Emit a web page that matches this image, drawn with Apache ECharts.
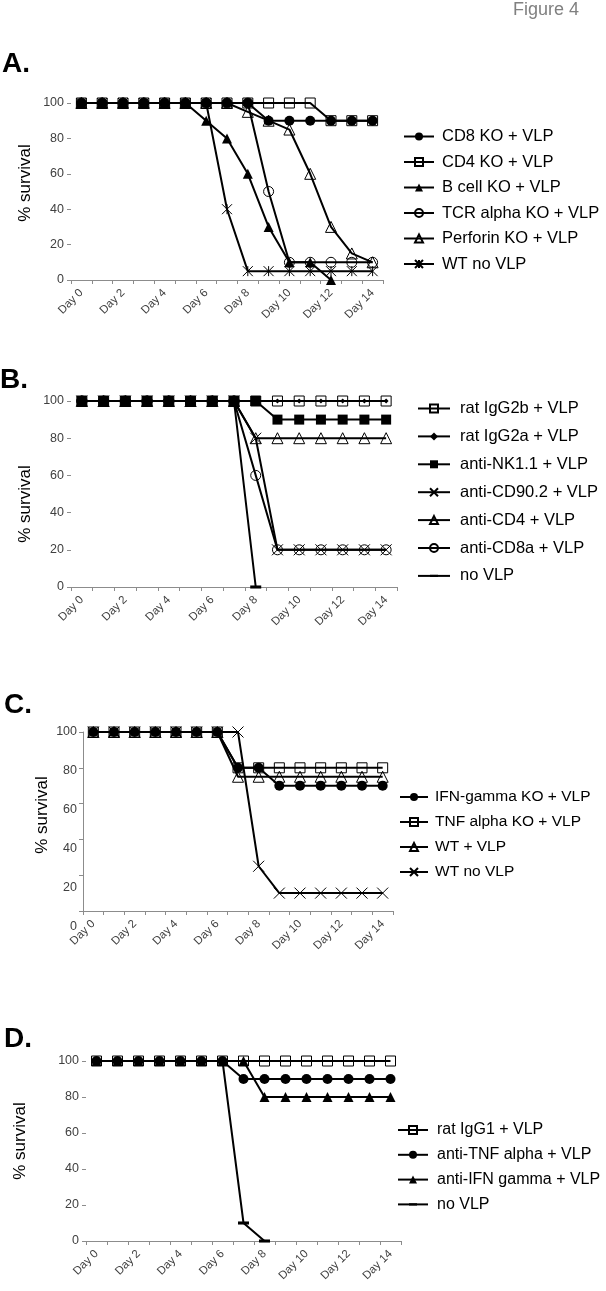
<!DOCTYPE html>
<html><head><meta charset="utf-8">
<script src="https://cdn.jsdelivr.net/npm/echarts@6/dist/echarts.min.js"></script>
<style>html,body{margin:0;padding:0;background:#fff}#c{width:606px;height:1291px}</style>
</head><body><div id="c"></div>
<script>
// ---- data ----
const days = ['Day 0','Day 1','Day 2','Day 3','Day 4','Day 5','Day 6','Day 7','Day 8','Day 9','Day 10','Day 11','Day 12','Day 13','Day 14'];
const yTicks = [0, 20, 40, 60, 80, 100];

// Panel A
const aCD8   = [100,100,100,100,100,100,100,100,100,90,90,90,90,90,90];
const aCD4   = [100,100,100,100,100,100,100,100,100,100,100,100,90,90,90];
const aBcell = [100,100,100,100,100,100,90,80,60,30,10,10,0,null,null];
const aTCR   = [100,100,100,100,100,100,100,100,100,50,10,10,10,10,10];
const aPerf  = [100,100,100,100,100,100,100,100,95,90,85,60,30,15,10];
const aWT    = [100,100,100,100,100,100,100,40,5,5,5,5,5,5,5];

// Panel B
const bIgG2b = [100,100,100,100,100,100,100,100,100,100,100,100,100,100,100];
const bIgG2a = [100,100,100,100,100,100,100,100,100,100,100,100,100,100,100];
const bNK    = [100,100,100,100,100,100,100,100,100,90,90,90,90,90,90];
const bCD90  = [100,100,100,100,100,100,100,100,80,20,20,20,20,20,20];
const bCD4   = [100,100,100,100,100,100,100,100,80,80,80,80,80,80,80];
const bCD8a  = [100,100,100,100,100,100,100,100,60,20,20,20,20,20,20];
const bNoVLP = [100,100,100,100,100,100,100,100,0,null,null,null,null,null,null];

// Panel C
const cIFN   = [100,100,100,100,100,100,100,80,80,70,70,70,70,70,70];
const cTNF   = [100,100,100,100,100,100,100,80,80,80,80,80,80,80,80];
const cWT    = [100,100,100,100,100,100,100,75,75,75,75,75,75,75,75];
const cWTno  = [100,100,100,100,100,100,100,100,25,10,10,10,10,10,10];

// Panel D
const dIgG1  = [100,100,100,100,100,100,100,100,100,100,100,100,100,100,100];
const dTNF   = [100,100,100,100,100,100,100,90,90,90,90,90,90,90,90];
const dIFN   = [100,100,100,100,100,100,100,100,80,80,80,80,80,80,80];
const dNoVLP = [100,100,100,100,100,100,100,10,0,null,null,null,null,null,null];

// ---- styling ----
const FONT = "'Liberation Sans', Arial, sans-serif";
const AX = '#8c8c8c';
const OPEN = {color:'rgba(255,255,255,0)', borderColor:'#000', borderWidth:1};
const FILL = {color:'#000', borderColor:'#000', borderWidth:0};
const M = {
  fc:  {symbol:'circle', symbolSize:10, itemStyle:FILL},
  os:  {symbol:'rect', symbolSize:10, itemStyle:OPEN},
  ft:  {symbol:'triangle', symbolSize:10, itemStyle:FILL},
  oc:  {symbol:'circle', symbolSize:10, itemStyle:OPEN},
  ot:  {symbol:'triangle', symbolSize:11, itemStyle:OPEN},
  ast: {symbol:'path://M0,0L10,10M10,0L0,10M5,0L5,10', symbolSize:10, itemStyle:OPEN},
  x:   {symbol:'path://M0,0L10,10M10,0L0,10', symbolSize:11, itemStyle:OPEN},
  dia: {symbol:'diamond', symbolSize:5, itemStyle:FILL},
  fs:  {symbol:'rect', symbolSize:10, itemStyle:FILL},
  dash:{symbol:'path://M0,0L0,0M10,10L10,10M0,3.6L10,3.6L10,6.4L0,6.4Z', symbolSize:11, itemStyle:FILL}
};
function ser(name, data, gi, m) {
  return Object.assign({
    type:'line', name:name, data:data, xAxisIndex:gi, yAxisIndex:gi,
    showAllSymbol:true, animation:false, silent:true,
    lineStyle:{color:'#000', width:2}
  }, M[m]);
}
function xAx(gi) {
  return {type:'category', gridIndex:gi, data:days, boundaryGap:true,
    axisLine:{show:true, lineStyle:{color:AX, width:1}},
    axisTick:{show:true, interval:0, length:4, lineStyle:{color:AX}},
    axisLabel:{interval:1, rotate:45, fontSize:11.5, color:'#404040', fontFamily:FONT, margin:11},
    splitLine:{show:false}};
}
function yAx(gi, showLine, showLabel) {
  return {type:'value', gridIndex:gi, min:yTicks[0], max:yTicks[yTicks.length-1], interval:20,
    axisLine:{show:showLine, lineStyle:{color:AX, width:1}},
    axisTick:{show:true, length:4, lineStyle:{color:AX}},
    axisLabel:{show:showLabel, fontSize:12.5, color:'#404040', fontFamily:FONT, margin:7},
    splitLine:{show:false}};
}
function leg(names, left, top, gap, iw, fs, pad) {
  return {data:names, orient:'vertical', left:left, top:top, itemGap:gap, padding:0,
    itemWidth:iw, itemHeight:10, selectedMode:false,
    textStyle:{fontSize:fs, lineHeight:16, color:'#000', fontFamily:FONT, padding:[0,0,0,pad]}};
}
function txt(t, x, y, size, opts) {
  return Object.assign({type:'text', x:x, y:y, silent:true,
    style:Object.assign({text:t, font:size, fill:'#000', textAlign:'left', textVerticalAlign:'middle'}, opts||{})});
}

const namesA = ['CD8 KO + VLP','CD4 KO + VLP','B cell KO + VLP','TCR alpha KO + VLP','Perforin KO + VLP','WT no VLP'];
const namesB = ['rat IgG2b + VLP','rat IgG2a + VLP','anti-NK1.1 + VLP','anti-CD90.2 + VLP','anti-CD4 + VLP','anti-CD8a + VLP','no VLP'];
const namesC = ['IFN-gamma KO + VLP','TNF alpha KO + VLP','WT + VLP','WT no VLP '];
const namesD = ['rat IgG1 + VLP','anti-TNF alpha + VLP','anti-IFN gamma + VLP','no VLP '];

const option = {
  backgroundColor:'#fff',
  animation:false,
  textStyle:{fontFamily:FONT},
  grid:[
    {left:71, top:103, width:312, height:177},
    {left:71, top:401, width:326, height:186},
    {left:83, top:732, width:310, height:179},
    {left:86, top:1061, width:315, height:180},
    {left:83, top:732, width:310, height:195}
  ],
  xAxis:[xAx(0), xAx(1), xAx(2), xAx(3), {type:'value', gridIndex:4, show:false, min:0, max:1}],
  yAxis:[yAx(0,false,true), yAx(1,false,true), yAx(2,true,false), yAx(3,false,true),
         {type:'value', gridIndex:4, min:0, max:100, interval:20,
          axisLine:{show:false}, axisTick:{show:false}, splitLine:{show:false},
          axisLabel:{fontSize:12.5, color:'#404040', fontFamily:FONT, margin:6}}],
  legend:[
    leg(namesA, 403, 128, 8.5, 30, 16.5, 3),
    leg(namesB, 417, 400, 10.9, 32, 16.5, 5),
    leg(namesC, 399, 789, 9, 28, 15.5, 2),
    leg(namesD, 397, 1122, 8.8, 30, 16, 4)
  ],
  graphic:[
    txt('Figure 4', 513, 10, '18px ' + FONT, {fill:'#808080'}),
    txt('A.', 2, 64, 'bold 28px ' + FONT),
    txt('B.', 0, 380, 'bold 28px ' + FONT),
    txt('C.', 4, 705, 'bold 28px ' + FONT),
    txt('D.', 4, 1039, 'bold 28px ' + FONT),
    txt('% survival', 25, 183, '17px ' + FONT, {textAlign:'center'}),
    txt('% survival', 25, 504, '17px ' + FONT, {textAlign:'center'}),
    txt('% survival', 42, 815, '17px ' + FONT, {textAlign:'center'}),
    txt('% survival', 20, 1141, '17px ' + FONT, {textAlign:'center'})
  ].map(function(g, i){ if (i >= 5) g.rotation = Math.PI/2; return g; }),
  series:[
    ser(namesA[0], aCD8, 0, 'fc'),
    ser(namesA[1], aCD4, 0, 'os'),
    ser(namesA[2], aBcell, 0, 'ft'),
    ser(namesA[3], aTCR, 0, 'oc'),
    ser(namesA[4], aPerf, 0, 'ot'),
    ser(namesA[5], aWT, 0, 'ast'),

    ser(namesB[0], bIgG2b, 1, 'os'),
    ser(namesB[1], bIgG2a, 1, 'dia'),
    ser(namesB[2], bNK, 1, 'fs'),
    ser(namesB[3], bCD90, 1, 'x'),
    ser(namesB[4], bCD4, 1, 'ot'),
    ser(namesB[5], bCD8a, 1, 'oc'),
    ser(namesB[6], bNoVLP, 1, 'dash'),

    ser(namesC[0], cIFN, 2, 'fc'),
    ser(namesC[1], cTNF, 2, 'os'),
    ser(namesC[2], cWT, 2, 'ot'),
    ser(namesC[3], cWTno, 2, 'x'),

    ser(namesD[0], dIgG1, 3, 'os'),
    ser(namesD[1], dTNF, 3, 'fc'),
    ser(namesD[2], dIFN, 3, 'ft'),
    ser(namesD[3], dNoVLP, 3, 'dash')
  ]
};
const chart = echarts.init(document.getElementById('c'), null, {renderer:'canvas'});
chart.setOption(option);
</script>
</body></html>
